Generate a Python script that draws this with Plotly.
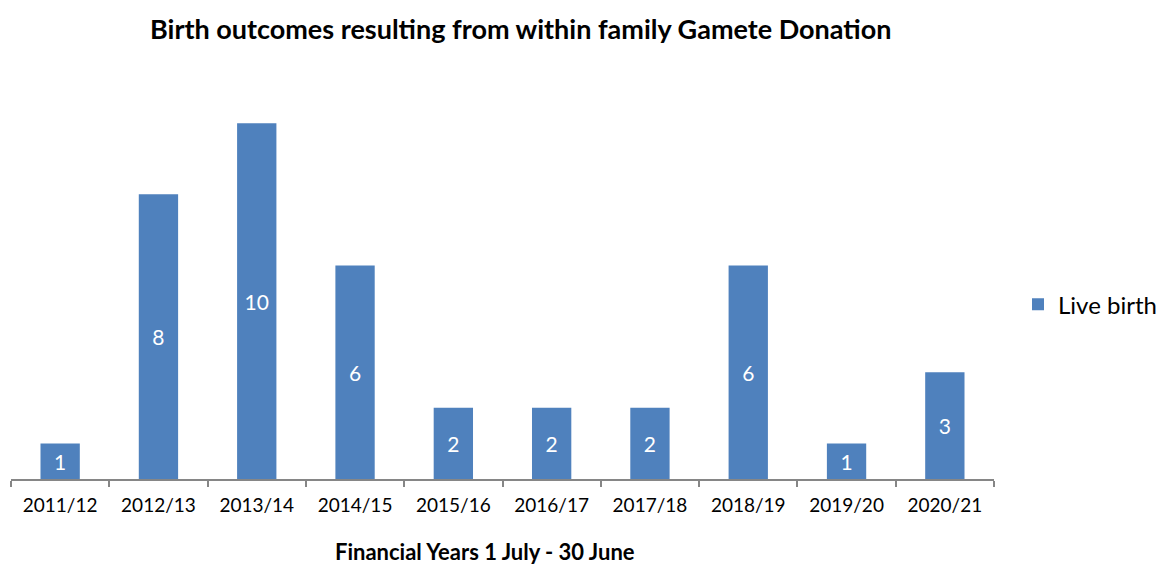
import plotly.graph_objects as go

years = ["2011/12", "2012/13", "2013/14", "2014/15", "2015/16",
         "2016/17", "2017/18", "2018/19", "2019/20", "2020/21"]
live_birth = [1, 8, 10, 6, 2, 2, 2, 6, 1, 3]

FONT = "Lato"
OFF = 8  # page body margin offset
W, H = 1164 - OFF, 565 - OFF
# target pixel positions in the window
PL, PR, PT, PB = 11, 994, 52, 479.5
L, R, T, B = PL - OFF, 1164 - PR, PT - OFF, 565 - PB
PW, PH = PR - PL, PB - PT

def px(x):
    return (x - PL) / PW

def py(y):
    return (PB - y) / PH

fig = go.Figure()
fig.add_trace(go.Bar(
    x=years, y=live_birth, name="Live birth",
    marker=dict(color="#4F81BD", line=dict(width=0)),
    text=[str(v) for v in live_birth],
    textposition="inside", insidetextanchor="middle",
    textfont=dict(family=FONT, size=21, color="white"),
    constraintext="none",
))

fig.update_layout(
    width=W, height=H,
    margin=dict(l=L, r=R, t=T, b=B, autoexpand=False),
    paper_bgcolor="white", plot_bgcolor="white",
    bargap=0.6,
    showlegend=True,
    legend=dict(x=px(1018), y=py(305), xanchor="left", yanchor="middle",
                font=dict(family=FONT, size=24, color="black"),
                bgcolor="rgba(0,0,0,0)"),
    xaxis=dict(
        type="category", range=[-0.5, 9.5],
        showline=True, linecolor="#868686", linewidth=1.5,
        ticks="outside", tickson="boundaries", ticklen=6, tickcolor="#868686", tickwidth=1.5,
        ticklabelstandoff=8,
        tickfont=dict(family=FONT, size=19, color="black"),
        showgrid=False,
    ),
    yaxis=dict(range=[0, 12], visible=False, showgrid=False, zeroline=False),
    annotations=[
        dict(text="<b>Birth outcomes resulting from within family Gamete Donation</b>",
             xref="paper", yref="paper", x=px(520), y=py(28),
             xanchor="center", yanchor="middle", showarrow=False,
             font=dict(family=FONT, size=27, color="black")),
        dict(text="<b>Financial Years 1 July - 30 June</b>",
             xref="paper", yref="paper", x=px(485), y=py(552),
             xanchor="center", yanchor="middle", showarrow=False,
             font=dict(family=FONT, size=22, color="black")),
    ],
)

fig.write_html("out.html")
